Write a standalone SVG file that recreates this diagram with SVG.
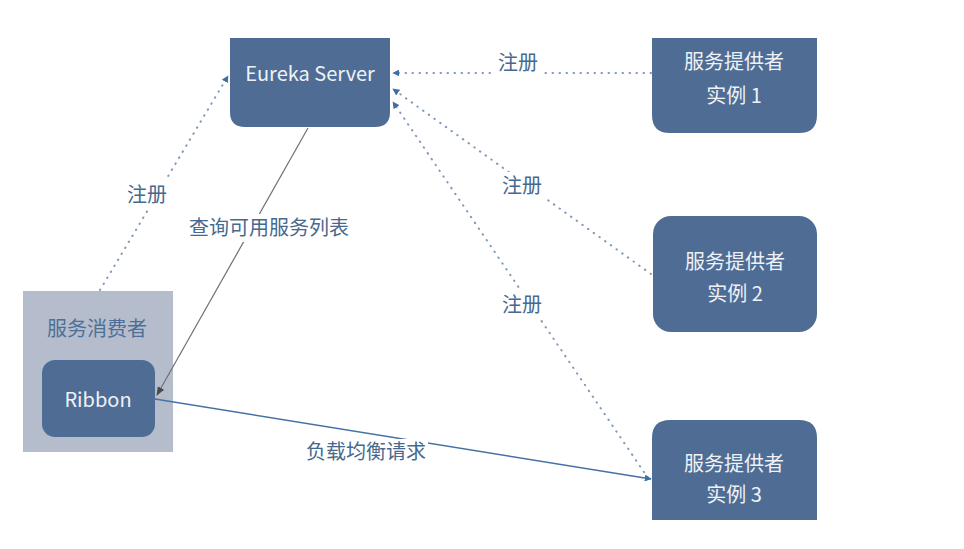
<svg xmlns="http://www.w3.org/2000/svg" width="964" height="549" viewBox="0 0 964 549">
<defs>
<style>
.node{fill:#4f6d94}
.nt{fill:#eef2f7;font-family:"Noto Sans CJK SC","Noto Sans",sans-serif;font-size:20px;text-anchor:middle}
.lbl{fill:#46698f;font-family:"Noto Sans CJK SC","Noto Sans",sans-serif;font-size:20px;text-anchor:middle}
.dot{fill:none;stroke:#8199b8;stroke-width:2;stroke-dasharray:0.5 6.5;stroke-linecap:round}
.solid{fill:none;stroke:#707070;stroke-width:1.2}
.blue{fill:none;stroke:#4572a6;stroke-width:1.6}
.bg{fill:#ffffff}
</style>
<marker id="ab" viewBox="0 0 10 10" refX="9" refY="5" markerWidth="7" markerHeight="7" orient="auto" markerUnits="userSpaceOnUse">
<path d="M0,0 L10,5 L0,10 z" fill="#3f6ea3"/>
</marker>
<marker id="ag" viewBox="0 0 10 10" refX="9" refY="5" markerWidth="9" markerHeight="9" orient="auto" markerUnits="userSpaceOnUse">
<path d="M0,1 L10,5 L0,9 z" fill="#4a4a4a"/>
</marker>
</defs>
<rect width="964" height="549" fill="#ffffff"/>
<g id="eureka">
<path class="node" d="M230,38 H390 V112 Q390,127 375,127 H245 Q230,127 230,112 Z"/>
<text class="nt" x="310" y="81">Eureka Server</text>
</g>
<g id="provider1">
<path class="node" d="M652,38 H817 V115 Q817,133 799,133 H670 Q652,133 652,115 Z"/>
<text class="nt" x="734" y="69">服务提供者</text>
<text class="nt" x="734" y="103">实例 1</text>
</g>
<g id="provider2">
<rect class="node" x="653" y="216" width="164" height="116" rx="18"/>
<text class="nt" x="735" y="269">服务提供者</text>
<text class="nt" x="735" y="301">实例 2</text>
</g>
<g id="provider3">
<path class="node" d="M652,520 V438 Q652,420 670,420 H799 Q817,420 817,438 V520 Z"/>
<text class="nt" x="734" y="471">服务提供者</text>
<text class="nt" x="734" y="502">实例 3</text>
</g>
<g id="consumer">
<rect x="23" y="291" width="150" height="161" fill="#b5bdcc"/>
<text x="97" y="336" fill="#4d6f97" font-family="'Noto Sans CJK SC','Noto Sans',sans-serif" font-size="20" text-anchor="middle">服务消费者</text>
</g>
<g id="ribbon">
<rect class="node" x="42" y="360" width="113" height="77" rx="13"/>
<text class="nt" x="98" y="407">Ribbon</text>
</g>
<g id="connectors">
<path class="dot" d="M100,290 L228,76" marker-end="url(#ab)"/>
<path class="dot" d="M651,73 L393,73" marker-end="url(#ab)"/>
<path class="dot" d="M651,274 L393,89" marker-end="url(#ab)"/>
<path class="dot" d="M648,478 L393,102" marker-end="url(#ab)"/>
<path class="solid" d="M308,128 L157,395" marker-end="url(#ag)"/>
<path class="blue" d="M155,399 L651,479" marker-end="url(#ab)"/>
<rect class="bg" x="124" y="180" width="46" height="28"/>
<text class="lbl" x="147" y="202">注册</text>
<rect class="bg" x="186" y="214" width="166" height="28"/>
<text class="lbl" x="269" y="235">查询可用服务列表</text>
<rect class="bg" x="495" y="50" width="46" height="28"/>
<text class="lbl" x="518" y="70">注册</text>
<rect class="bg" x="499" y="172" width="46" height="28"/>
<text class="lbl" x="522" y="193">注册</text>
<rect class="bg" x="499" y="291" width="46" height="28"/>
<text class="lbl" x="522" y="312">注册</text>
<rect class="bg" x="304" y="439" width="124" height="26"/>
<text class="lbl" x="366" y="459">负载均衡请求</text>
</g>
</svg>
